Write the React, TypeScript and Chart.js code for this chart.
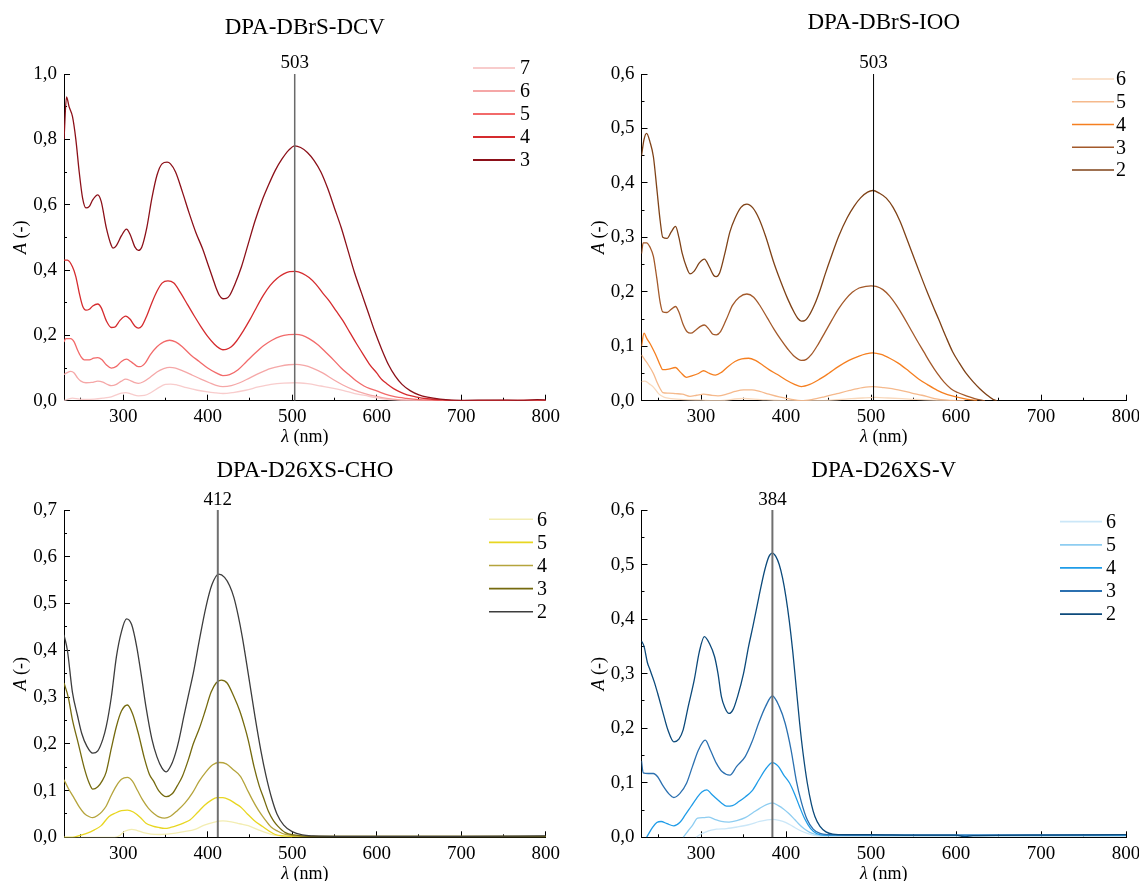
import React, { useEffect, useRef } from 'react';
import { Chart, registerables } from 'chart.js';

Chart.register(...registerables);

const FONT = "'Liberation Serif', 'Times New Roman', serif";

type Pt = [number, number];

// ---------- DPA-DBrS-DCV ----------
const DCV_3: Pt[] = [[230,0.80],[233,0.93],[236,0.90],[240,0.87],[244,0.80],[248,0.70],[252,0.62],[256,0.59],[260,0.595],[264,0.615],[270,0.63],[274,0.61],[280,0.53],[286,0.475],[288,0.467],[292,0.475],[298,0.505],[304,0.525],[308,0.51],[314,0.47],[318,0.46],[322,0.47],[328,0.53],[334,0.62],[340,0.69],[346,0.725],[352,0.73],[356,0.725],[362,0.70],[370,0.64],[378,0.575],[386,0.515],[394,0.465],[400,0.42],[406,0.375],[410,0.345],[414,0.322],[418,0.312],[422,0.313],[426,0.322],[432,0.355],[440,0.41],[448,0.48],[456,0.55],[464,0.61],[472,0.66],[480,0.705],[488,0.74],[496,0.767],[503,0.78],[510,0.775],[518,0.76],[526,0.735],[534,0.70],[542,0.65],[550,0.59],[558,0.53],[566,0.46],[574,0.39],[582,0.33],[590,0.27],[598,0.21],[606,0.157],[614,0.11],[622,0.075],[630,0.05],[640,0.03],[650,0.018],[660,0.011],[675,0.005],[700,0.001],[740,0.002],[770,0.001],[790,0.003],[800,0.002]];
const DCV_4: Pt[] = [[230,0.43],[234,0.43],[240,0.41],[244,0.38],[248,0.33],[252,0.29],[256,0.277],[260,0.28],[264,0.29],[270,0.296],[274,0.285],[280,0.245],[286,0.224],[290,0.225],[296,0.245],[303,0.259],[308,0.25],[314,0.228],[318,0.222],[322,0.228],[328,0.26],[334,0.30],[340,0.335],[346,0.36],[353,0.367],[360,0.36],[368,0.33],[376,0.295],[384,0.26],[392,0.227],[400,0.197],[408,0.173],[414,0.16],[418,0.156],[422,0.157],[428,0.165],[434,0.182],[442,0.213],[450,0.248],[456,0.277],[466,0.323],[474,0.353],[482,0.374],[490,0.388],[497,0.395],[504,0.396],[512,0.39],[520,0.377],[528,0.357],[536,0.33],[544,0.305],[552,0.275],[560,0.245],[568,0.21],[576,0.175],[584,0.142],[592,0.11],[600,0.085],[606,0.065],[612,0.052],[620,0.037],[628,0.026],[636,0.018],[646,0.012],[660,0.006],[680,0.002],[700,0.0],[760,0.001],[800,0.002]];
const DCV_5: Pt[] = [[230,0.18],[232,0.19],[238,0.19],[242,0.18],[246,0.155],[250,0.135],[254,0.125],[260,0.125],[265,0.13],[270,0.132],[275,0.125],[280,0.11],[286,0.10],[292,0.105],[298,0.12],[304,0.127],[310,0.118],[316,0.106],[320,0.104],[326,0.115],[332,0.14],[340,0.165],[348,0.18],[355,0.185],[362,0.18],[370,0.165],[380,0.14],[390,0.12],[400,0.10],[410,0.085],[418,0.077],[426,0.08],[436,0.095],[446,0.12],[456,0.145],[466,0.168],[476,0.185],[486,0.197],[496,0.202],[504,0.203],[512,0.20],[520,0.19],[530,0.172],[541,0.145],[550,0.122],[558,0.10],[567,0.08],[576,0.06],[585,0.045],[592,0.037],[600,0.03],[610,0.02],[620,0.013],[635,0.007],[650,0.003],[680,0.001],[720,0.0],[800,0.0]];
const DCV_6: Pt[] = [[230,0.08],[233,0.085],[238,0.09],[242,0.085],[246,0.07],[250,0.06],[256,0.055],[263,0.056],[270,0.06],[276,0.057],[282,0.049],[286,0.046],[292,0.05],[298,0.06],[303,0.066],[309,0.061],[314,0.055],[318,0.053],[324,0.058],[332,0.072],[340,0.088],[348,0.098],[355,0.102],[362,0.10],[372,0.09],[382,0.078],[392,0.066],[402,0.055],[410,0.047],[418,0.043],[428,0.046],[438,0.055],[450,0.07],[462,0.085],[474,0.098],[486,0.106],[496,0.11],[504,0.111],[514,0.108],[524,0.10],[536,0.085],[549,0.064],[560,0.048],[572,0.034],[586,0.022],[600,0.013],[612,0.007],[625,0.003],[650,0.001],[700,0.0],[800,0.0]];
const DCV_7: Pt[] = [[230,0.0],[235,0.005],[240,0.008],[248,0.005],[256,0.004],[266,0.005],[276,0.008],[286,0.012],[292,0.018],[298,0.023],[303,0.025],[310,0.02],[318,0.015],[325,0.016],[333,0.025],[342,0.04],[350,0.05],[356,0.051],[364,0.048],[375,0.04],[388,0.032],[400,0.027],[410,0.024],[418,0.022],[430,0.025],[445,0.032],[460,0.042],[475,0.05],[490,0.054],[504,0.055],[518,0.052],[534,0.045],[549,0.038],[562,0.03],[574,0.022],[586,0.016],[600,0.009],[612,0.004],[630,0.001],[660,0.0],[800,0.0]];

// ---------- DPA-DBrS-IOO ----------
const IOO_2: Pt[] = [[230,0.45],[233,0.48],[236,0.491],[240,0.475],[244,0.448],[248,0.39],[252,0.33],[255,0.30],[260,0.298],[265,0.31],[270,0.32],[274,0.30],[278,0.27],[283,0.245],[287,0.233],[292,0.238],[298,0.253],[304,0.26],[310,0.245],[315,0.23],[318,0.228],[322,0.235],[328,0.27],[334,0.31],[340,0.335],[347,0.355],[354,0.361],[361,0.354],[368,0.335],[376,0.302],[386,0.252],[394,0.218],[402,0.187],[410,0.161],[414,0.151],[418,0.146],[422,0.147],[427,0.156],[434,0.178],[440,0.203],[446,0.232],[454,0.268],[462,0.302],[472,0.336],[480,0.357],[488,0.373],[496,0.383],[502,0.386],[510,0.381],[518,0.372],[526,0.355],[534,0.33],[542,0.298],[550,0.265],[558,0.232],[566,0.2],[574,0.17],[580,0.148],[588,0.118],[596,0.09],[604,0.069],[612,0.05],[620,0.035],[628,0.022],[636,0.011],[644,0.002],[648,0.0]];
const IOO_3: Pt[] = [[230,0.27],[232,0.29],[236,0.29],[240,0.282],[244,0.265],[248,0.225],[252,0.18],[255,0.163],[260,0.162],[265,0.168],[270,0.173],[274,0.163],[279,0.14],[284,0.126],[288,0.124],[294,0.13],[300,0.137],[304,0.139],[309,0.132],[314,0.122],[318,0.121],[323,0.127],[330,0.15],[337,0.175],[345,0.19],[354,0.196],[362,0.19],[370,0.173],[378,0.152],[386,0.131],[394,0.112],[402,0.095],[410,0.081],[418,0.074],[424,0.076],[430,0.085],[438,0.104],[446,0.126],[454,0.148],[462,0.169],[470,0.186],[478,0.199],[486,0.207],[494,0.21],[500,0.211],[506,0.21],[514,0.204],[522,0.192],[530,0.175],[538,0.155],[546,0.133],[554,0.111],[562,0.09],[570,0.069],[578,0.05],[586,0.034],[594,0.022],[602,0.015],[612,0.009],[622,0.004],[634,0.0]];
const IOO_4: Pt[] = [[230,0.10],[233,0.124],[236,0.115],[240,0.105],[244,0.093],[248,0.08],[252,0.065],[255,0.057],[262,0.058],[270,0.061],[276,0.052],[283,0.043],[290,0.046],[297,0.05],[303,0.055],[310,0.05],[317,0.047],[324,0.052],[332,0.063],[340,0.072],[348,0.077],[356,0.078],[364,0.074],[372,0.066],[380,0.057],[390,0.048],[400,0.038],[410,0.03],[418,0.026],[428,0.03],[438,0.038],[450,0.05],[462,0.063],[474,0.074],[486,0.082],[494,0.086],[502,0.088],[512,0.085],[522,0.078],[532,0.069],[544,0.055],[556,0.04],[566,0.03],[578,0.019],[590,0.011],[600,0.007],[612,0.003],[625,0.0]];
const IOO_5: Pt[] = [[230,0.084],[234,0.075],[238,0.066],[244,0.05],[248,0.035],[252,0.022],[255,0.015],[262,0.014],[270,0.013],[278,0.012],[287,0.008],[295,0.01],[303,0.012],[312,0.01],[320,0.009],[330,0.012],[340,0.017],[350,0.02],[360,0.02],[369,0.017],[380,0.012],[392,0.007],[405,0.003],[418,0.0],[430,0.002],[445,0.007],[460,0.013],[475,0.019],[490,0.024],[502,0.026],[515,0.024],[532,0.02],[548,0.014],[560,0.01],[575,0.004],[590,0.001],[610,0.0]];
const IOO_6: Pt[] = [[230,0.035],[234,0.036],[240,0.03],[244,0.025],[250,0.013],[257,0.006],[265,0.004],[280,0.002],[300,0.001],[320,0.0],[350,0.004],[370,0.002],[400,0.0],[440,0.0],[470,0.003],[490,0.005],[505,0.006],[520,0.005],[545,0.003],[570,0.001],[600,0.0]];

// ---------- DPA-D26XS-CHO ----------
const CHO_2: Pt[] = [[230,0.433],[234,0.40],[240,0.31],[246,0.26],[251,0.222],[257,0.195],[264,0.18],[270,0.185],[276,0.21],[280,0.237],[286,0.30],[292,0.386],[298,0.44],[304,0.467],[310,0.455],[316,0.408],[322,0.34],[327,0.279],[334,0.21],[340,0.172],[346,0.148],[351,0.14],[357,0.155],[362,0.18],[366,0.208],[372,0.26],[378,0.31],[383,0.351],[390,0.42],[398,0.493],[405,0.54],[413,0.563],[420,0.556],[426,0.538],[431,0.513],[436,0.475],[441,0.428],[448,0.35],[456,0.258],[463,0.185],[469,0.132],[476,0.082],[482,0.05],[490,0.026],[500,0.012],[512,0.005],[525,0.003],[560,0.002],[600,0.002],[700,0.002],[800,0.003]];
const CHO_3: Pt[] = [[230,0.33],[235,0.30],[240,0.251],[247,0.20],[254,0.148],[260,0.115],[264,0.103],[270,0.108],[275,0.12],[280,0.14],[286,0.19],[292,0.237],[298,0.27],[305,0.283],[311,0.265],[318,0.222],[325,0.17],[331,0.135],[336,0.12],[342,0.10],[351,0.087],[358,0.093],[364,0.11],[370,0.13],[377,0.165],[383,0.20],[390,0.232],[397,0.27],[404,0.31],[410,0.33],[416,0.336],[423,0.33],[431,0.301],[438,0.27],[444,0.235],[448,0.208],[455,0.15],[461,0.11],[466,0.085],[472,0.055],[478,0.035],[483,0.024],[492,0.01],[502,0.005],[520,0.002],[600,0.002],[800,0.002]];
const CHO_4: Pt[] = [[230,0.123],[235,0.105],[241,0.087],[248,0.065],[254,0.051],[260,0.044],[264,0.042],[270,0.047],[275,0.055],[280,0.067],[286,0.09],[292,0.11],[298,0.124],[305,0.128],[311,0.12],[317,0.10],[323,0.08],[330,0.062],[337,0.05],[343,0.043],[349,0.041],[356,0.045],[364,0.057],[373,0.073],[382,0.095],[390,0.12],[398,0.14],[406,0.155],[414,0.16],[422,0.157],[430,0.145],[439,0.13],[446,0.105],[453,0.08],[460,0.058],[467,0.04],[475,0.022],[483,0.013],[492,0.006],[505,0.003],[530,0.002],[800,0.002]];
const CHO_5: Pt[] = [[230,0.0],[240,0.0],[247,0.003],[256,0.008],[266,0.016],[274,0.025],[283,0.044],[291,0.052],[298,0.057],[305,0.058],[312,0.054],[320,0.043],[327,0.03],[335,0.024],[342,0.021],[349,0.019],[356,0.021],[365,0.026],[372,0.031],[379,0.037],[388,0.053],[396,0.068],[404,0.079],[411,0.085],[418,0.085],[426,0.08],[433,0.072],[439,0.065],[447,0.05],[455,0.036],[465,0.023],[473,0.013],[480,0.006],[490,0.003],[510,0.001],[800,0.001]];
const CHO_6: Pt[] = [[230,0.0],[290,0.0],[296,0.004],[301,0.012],[305,0.015],[310,0.017],[316,0.015],[324,0.01],[333,0.007],[343,0.006],[352,0.007],[362,0.009],[372,0.012],[385,0.017],[396,0.026],[407,0.032],[418,0.035],[428,0.033],[438,0.029],[448,0.025],[460,0.016],[474,0.007],[485,0.003],[500,0.0]];

// ---------- DPA-D26XS-V ----------
const V_2: Pt[] = [[230,0.36],[233,0.35],[237,0.32],[240,0.307],[245,0.285],[249,0.264],[255,0.23],[261,0.197],[268,0.175],[274,0.18],[279,0.197],[285,0.24],[292,0.288],[298,0.34],[304,0.368],[310,0.355],[316,0.331],[320,0.30],[324,0.258],[328,0.238],[333,0.227],[338,0.235],[343,0.258],[350,0.30],[356,0.35],[361,0.386],[368,0.44],[375,0.49],[380,0.515],[384,0.521],[388,0.515],[392,0.50],[396,0.475],[400,0.44],[404,0.395],[408,0.34],[412,0.275],[416,0.21],[420,0.155],[425,0.10],[430,0.06],[434,0.038],[440,0.02],[447,0.01],[455,0.006],[470,0.005],[500,0.005],[550,0.004],[600,0.004],[610,0.001],[620,0.003],[700,0.004],[800,0.005]];
const V_3: Pt[] = [[230,0.14],[232,0.118],[238,0.117],[244,0.117],[249,0.111],[255,0.095],[262,0.08],[268,0.073],[275,0.08],[283,0.099],[290,0.13],[297,0.16],[305,0.178],[311,0.16],[318,0.136],[325,0.12],[334,0.114],[342,0.13],[352,0.148],[360,0.175],[368,0.21],[376,0.24],[384,0.259],[392,0.24],[399,0.209],[406,0.16],[412,0.105],[418,0.065],[425,0.032],[432,0.015],[440,0.007],[450,0.005],[500,0.004],[600,0.004],[800,0.005]];
const V_4: Pt[] = [[236,0.0],[243,0.018],[248,0.027],[253,0.029],[260,0.025],[268,0.021],[275,0.027],[281,0.04],[288,0.056],[295,0.072],[301,0.083],[307,0.087],[312,0.08],[318,0.071],[324,0.063],[330,0.057],[337,0.058],[345,0.066],[352,0.074],[360,0.085],[368,0.105],[376,0.125],[384,0.137],[391,0.13],[397,0.115],[404,0.10],[410,0.08],[416,0.056],[422,0.034],[429,0.016],[436,0.007],[445,0.004],[500,0.004],[800,0.004]];
const V_5: Pt[] = [[279,0.0],[285,0.012],[290,0.022],[296,0.035],[303,0.036],[309,0.037],[316,0.033],[324,0.029],[333,0.028],[343,0.031],[352,0.036],[361,0.045],[369,0.053],[377,0.06],[384,0.063],[391,0.058],[397,0.052],[403,0.044],[410,0.033],[416,0.023],[421,0.016],[428,0.009],[436,0.005],[450,0.003],[500,0.003],[800,0.003]];
const V_6: Pt[] = [[294,0.0],[300,0.006],[306,0.01],[312,0.013],[318,0.015],[330,0.016],[343,0.019],[356,0.023],[369,0.029],[378,0.032],[384,0.033],[392,0.031],[400,0.027],[408,0.02],[416,0.013],[425,0.007],[434,0.003],[450,0.002],[800,0.002]];

// axis settings
const X_MIN = 230;
const X_MAX = 800;
const X_STEP = 100;

interface SeriesDef { label: string; color: string; data: Pt[] }
interface PanelDef {
  title: string;
  left: number; top: number; width: number; height: number;
  area: { l: number; r: number; t: number; b: number };
  titleY: number;
  yMax: number; yStep: number;
  peak: number; peakColor: string; peakWidth: number; peakLabelY: number;
  series: SeriesDef[];
  legend: { x0: number; x1: number; tx: number; y0: number; dy: number; lw: number };
}

const PANELS: PanelDef[] = [
  {
    title: 'DPA-DBrS-DCV', left: 0, top: 0, width: 570, height: 448,
    area: { l: 64, r: 545.7, t: 74, b: 400.7 }, titleY: 28,
    yMax: 1.0, yStep: 0.2, peak: 503, peakColor: '#6a6a6a', peakWidth: 1.5, peakLabelY: 63,
    series: [
      { label: '3', color: '#8c1019', data: DCV_3 },
      { label: '4', color: '#d52b2e', data: DCV_4 },
      { label: '5', color: '#f26a6a', data: DCV_5 },
      { label: '6', color: '#f5a7a7', data: DCV_6 },
      { label: '7', color: '#f8cccc', data: DCV_7 },
    ],
    legend: { x0: 473, x1: 515, tx: 520, y0: 68, dy: 23, lw: 2 },
  },
  {
    title: 'DPA-DBrS-IOO', left: 570, top: 0, width: 569, height: 448,
    area: { l: 71.5, r: 556, t: 74, b: 400.7 }, titleY: 23,
    yMax: 0.6, yStep: 0.1, peak: 503, peakColor: '#000000', peakWidth: 1, peakLabelY: 63,
    series: [
      { label: '2', color: '#7f4217', data: IOO_2 },
      { label: '3', color: '#a3592a', data: IOO_3 },
      { label: '4', color: '#f57f20', data: IOO_4 },
      { label: '5', color: '#f5b98c', data: IOO_5 },
      { label: '6', color: '#f9d9bd', data: IOO_6 },
    ],
    legend: { x0: 502, x1: 544, tx: 546, y0: 79, dy: 22.75, lw: 1.4 },
  },
  {
    title: 'DPA-D26XS-CHO', left: 0, top: 448, width: 570, height: 433,
    area: { l: 64, r: 545.7, t: 62, b: 389.3 }, titleY: 23,
    yMax: 0.7, yStep: 0.1, peak: 412, peakColor: '#707070', peakWidth: 2, peakLabelY: 52,
    series: [
      { label: '2', color: '#3d3d3d', data: CHO_2 },
      { label: '3', color: '#756a0e', data: CHO_3 },
      { label: '4', color: '#b5a43c', data: CHO_4 },
      { label: '5', color: '#e8d621', data: CHO_5 },
      { label: '6', color: '#f3edb2', data: CHO_6 },
    ],
    legend: { x0: 489, x1: 533, tx: 537, y0: 71.3, dy: 23.1, lw: 1.6 },
  },
  {
    title: 'DPA-D26XS-V', left: 570, top: 448, width: 569, height: 433,
    area: { l: 71.5, r: 556, t: 62, b: 389.3 }, titleY: 23,
    yMax: 0.6, yStep: 0.1, peak: 384, peakColor: '#707070', peakWidth: 2, peakLabelY: 52,
    series: [
      { label: '2', color: '#0c4a7b', data: V_2 },
      { label: '3', color: '#2b70b0', data: V_3 },
      { label: '4', color: '#1f9ce8', data: V_4 },
      { label: '5', color: '#8ecdf1', data: V_5 },
      { label: '6', color: '#cbe7f8', data: V_6 },
    ],
    legend: { x0: 490, x1: 532, tx: 536, y0: 73.7, dy: 23.1, lw: 1.8 },
  },
];

function drawMixed(ctx: CanvasRenderingContext2D, italicPart: string, rest: string, size: number, cx: number, cy: number) {
  ctx.font = `italic ${size}px ${FONT}`;
  const w1 = ctx.measureText(italicPart).width;
  ctx.font = `${size}px ${FONT}`;
  const w2 = ctx.measureText(rest).width;
  const start = cx - (w1 + w2) / 2;
  ctx.textAlign = 'left';
  ctx.textBaseline = 'middle';
  ctx.fillStyle = '#000';
  ctx.font = `italic ${size}px ${FONT}`;
  ctx.fillText(italicPart, start, cy);
  ctx.font = `${size}px ${FONT}`;
  ctx.fillText(rest, start + w1, cy);
}

const decorPlugin = {
  id: 'decor',
  afterDraw(chart: any, _args: any, opts: any) {
    const ctx: CanvasRenderingContext2D = chart.ctx;
    const a = chart.chartArea;
    const xs = chart.scales.x;
    ctx.save();
    // axis titles
    drawMixed(ctx, 'λ', ' (nm)', 18, (a.left + a.right) / 2, a.bottom + 36.5);
    ctx.save();
    ctx.translate(a.left - 42.5, (a.top + a.bottom) / 2);
    ctx.rotate(-Math.PI / 2);
    drawMixed(ctx, 'A', ' (-)', 18, 0, 0);
    ctx.restore();
    // peak label
    ctx.font = `19px ${FONT}`;
    ctx.fillStyle = '#000';
    ctx.textAlign = 'center';
    ctx.textBaseline = 'middle';
    ctx.fillText(String(opts.peak), xs.getPixelForValue(opts.peak), opts.peakLabelY);
    // legend
    const lg = opts.legend;
    const items = chart.data.datasets.filter((d: any) => d.label !== '').slice().reverse();
    items.forEach((d: any, i: number) => {
      const y = lg.y0 + i * lg.dy;
      ctx.strokeStyle = d.borderColor;
      ctx.lineWidth = lg.lw;
      ctx.beginPath();
      ctx.moveTo(lg.x0, y);
      ctx.lineTo(lg.x1, y);
      ctx.stroke();
      ctx.fillStyle = '#000';
      ctx.font = `20px ${FONT}`;
      ctx.textAlign = 'left';
      ctx.textBaseline = 'middle';
      ctx.fillText(d.label, lg.tx, y + 1);
    });
    ctx.restore();
  },
};

function Panel({ p }: { p: PanelDef }) {
  const ref = useRef<HTMLCanvasElement | null>(null);
  useEffect(() => {
    if (!ref.current) return;
    const tickFont = { family: FONT, size: 19 };
    const datasets: any[] = [
      {
        label: '',
        data: [{ x: p.peak, y: 0 }, { x: p.peak, y: p.yMax }],
        borderColor: p.peakColor,
        borderWidth: p.peakWidth,
        pointRadius: 0,
        fill: false,
        xAxisID: 'x',
        yAxisID: 'y',
      },
      ...p.series.map((s) => ({
        label: s.label,
        data: s.data.map(([x, y]) => ({ x, y })),
        borderColor: s.color,
        backgroundColor: s.color,
        borderWidth: 1.3,
        pointRadius: 0,
        fill: false,
        cubicInterpolationMode: 'monotone',
        xAxisID: 'x',
        yAxisID: 'y',
      })),
    ];
    const chart = new Chart(ref.current, {
      type: 'line',
      data: { datasets },
      plugins: [decorPlugin as any],
      options: {
        responsive: false,
        maintainAspectRatio: false,
        animation: false,
        devicePixelRatio: 1,
        layout: { padding: { left: 0, top: 0, bottom: 0, right: p.width - p.area.r } },
        plugins: {
          legend: { display: false },
          tooltip: { enabled: false },
          title: {
            display: true,
            text: p.title,
            fullSize: false,
            align: 'center',
            color: '#000',
            font: { family: FONT, size: 23, weight: 'normal', lineHeight: 1.2 },
            padding: { top: p.titleY - 13.8, bottom: p.area.t - p.titleY - 13.8 },
          },
          decor: { peak: p.peak, peakLabelY: p.peakLabelY, legend: p.legend },
        } as any,
        scales: {
          x: {
            type: 'linear', position: 'bottom', min: X_MIN, max: X_MAX, weight: 1,
            ticks: { stepSize: X_STEP, includeBounds: false, autoSkip: false, maxRotation: 0, color: '#000', font: tickFont, padding: 11 },
            grid: { drawOnChartArea: false, drawTicks: true, tickLength: -6, tickColor: '#000', tickWidth: 1 },
            border: { display: true, color: '#000', width: 1 },
            afterFit: (s: any) => { s.height = p.height - p.area.b; s.paddingLeft = 0; s.paddingRight = 0; },
          },
          xm: {
            type: 'linear', position: 'bottom', min: X_MIN, max: X_MAX, weight: 0,
            ticks: { display: false, stepSize: X_STEP / 2, includeBounds: false, autoSkip: false },
            grid: { drawOnChartArea: false, drawTicks: true, tickLength: -3, tickColor: '#000', tickWidth: 1 },
            border: { display: false },
            afterFit: (s: any) => { s.height = 0; s.paddingLeft = 0; s.paddingRight = 0; },
          },
          y: {
            type: 'linear', position: 'left', min: 0, max: p.yMax, weight: 1,
            ticks: {
              stepSize: p.yStep, autoSkip: false, color: '#000', font: tickFont, padding: 13,
              callback: (v: any) => Number(v).toFixed(1).replace('.', ','),
            },
            grid: { drawOnChartArea: false, drawTicks: true, tickLength: -6, tickColor: '#000', tickWidth: 1 },
            border: { display: true, color: '#000', width: 1 },
            afterFit: (s: any) => { s.width = p.area.l; s.paddingTop = 0; s.paddingBottom = 0; },
          },
          ym: {
            type: 'linear', position: 'left', min: 0, max: p.yMax, weight: 0,
            ticks: { display: false, stepSize: p.yStep / 2, autoSkip: false },
            grid: { drawOnChartArea: false, drawTicks: true, tickLength: -3, tickColor: '#000', tickWidth: 1 },
            border: { display: false },
            afterFit: (s: any) => { s.width = 0; s.paddingTop = 0; s.paddingBottom = 0; },
          },
        } as any,
      },
    });
    return () => chart.destroy();
  }, [p]);
  return (
    <canvas
      ref={ref}
      width={p.width}
      height={p.height}
      style={{ position: 'absolute', left: p.left, top: p.top, width: p.width, height: p.height }}
    />
  );
}

export default function App() {
  return (
    <div style={{ position: 'absolute', left: 0, top: 0, width: 1139, height: 881, background: '#fff', overflow: 'hidden' }}>
      {PANELS.map((p) => (
        <Panel key={p.title} p={p} />
      ))}
    </div>
  );
}
